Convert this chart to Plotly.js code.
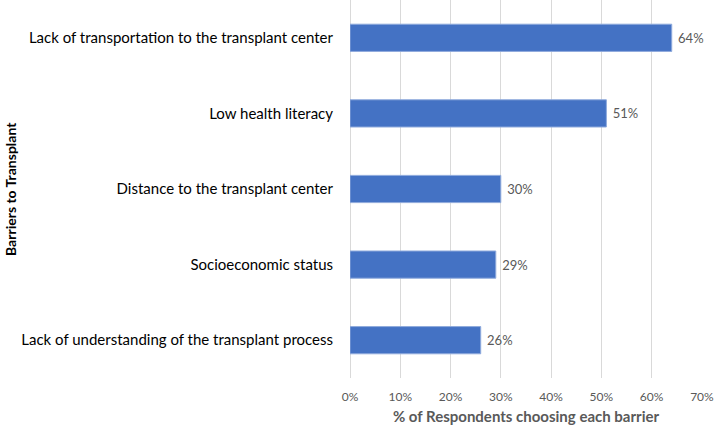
<!DOCTYPE html>
<html>
<head>
<meta charset="utf-8">
<script src="https://cdn.plot.ly/plotly-3.0.1.min.js"></script>
<style>
  html, body { margin: 0; padding: 0; background: #fff; }
  #chart { width: 714px; height: 425px; }
</style>
</head>
<body>
<div id="chart"></div>
<script>
// barriers, top to bottom as in the picture
const barriers = [
    'Lack of transportation to the transplant center',
    'Low health literacy',
    'Distance to the transplant center',
    'Socioeconomic status',
    'Lack of understanding of the transplant process'
];
const shares = [0.64, 0.51, 0.30, 0.29, 0.26];
const tickValues = [0, 0.1, 0.2, 0.3, 0.4, 0.5, 0.6, 0.7];

const font = 'Lato, "Open Sans", sans-serif';

let trace = {
    type: 'bar',
    orientation: 'h',
    x: shares,
    y: barriers,
    marker: {
        color: '#4472c4',
        line: {color: '#8faadc', width: 1}
    },
    // leading space gives the little gap after the bar end
    text: shares.map(v => ' ' + Math.round(v * 100) + '%'),
    textposition: 'outside',
    constraintext: 'none',
    textfont: {family: font, size: 13, color: '#595959'},
    cliponaxis: false,
    hoverinfo: 'none'
};

let layout = {
    width: 714,
    height: 425,
    margin: {l: 350, r: 12, t: 0, b: 47},
    paper_bgcolor: '#fff',
    plot_bgcolor: '#fff',
    bargap: 0.64,
    showlegend: false,
    font: {family: font},
    xaxis: {
        range: [0, 0.7002],
        tickvals: tickValues,
        tickformat: '.0%',
        tickfont: {family: font, size: 12, color: '#595959'},
        ticklabelstandoff: 10,
        ticklabeloverflow: 'allow',
        showgrid: true,
        gridcolor: '#d9d9d9',
        gridwidth: 1,
        zeroline: true,
        zerolinecolor: '#d9d9d9',
        zerolinewidth: 1,
        showline: false,
        ticks: '',
        title: {
            text: '% of Respondents choosing each barrier',
            font: {family: font, size: 15, color: '#595959', weight: 'bold'},
            standoff: 9
        },
        fixedrange: true
    },
    yaxis: {
        autorange: 'reversed',
        tickfont: {family: font, size: 15, color: '#000'},
        ticks: '',
        ticklabelstandoff: 16,
        showline: false,
        fixedrange: true
    },
    annotations: [{
        text: 'Barriers to Transplant',
        textangle: -90,
        xref: 'paper',
        yref: 'paper',
        x: -340 / 352,
        y: 0.5,
        xanchor: 'center',
        yanchor: 'middle',
        showarrow: false,
        font: {family: font, size: 14, color: '#000', weight: 'bold'}
    }]
};

let config = {displayModeBar: false, staticPlot: true};

Plotly.newPlot('chart', [trace], layout, config);
</script>
</body>
</html>
